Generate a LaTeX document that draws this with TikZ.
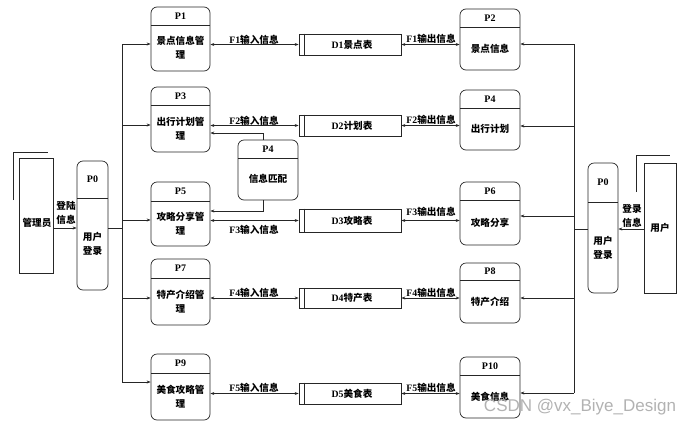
\documentclass[tikz,border=0pt]{standalone}
\usepackage{fontspec}
\setmainfont{Liberation Serif}
\newfontfamily\cjk{Noto Sans CJK SC}
\newfontfamily\wmfont{Liberation Sans}
\usetikzlibrary{arrows.meta,calc}
\tikzset{
  ln/.style={draw=black!85, line width=0.7pt},
  arr/.style={ln, -{Stealth[length=4pt,width=3pt]}},
  biarr/.style={ln, {Stealth[length=4pt,width=3pt]}-{Stealth[length=4pt,width=3pt]}},
  proc/.style={ln, rounded corners=6pt, inner sep=0pt},
  storebox/.style={ln, inner sep=0pt, minimum width=102pt},
  entbox/.style={ln, inner sep=0pt},
  hdr/.style={font=\bfseries\fontsize{10}{11}\selectfont, inner sep=0pt},
  bodytxt/.style={font=\cjk\bfseries\fontsize{9.6}{14}\selectfont, align=center, inner sep=0pt},
  flowlbl/.style={font=\bfseries\fontsize{9.8}{11}\selectfont, inner sep=0pt},
}
\newcommand{\zh}[1]{{\cjk\fontsize{9.6}{11}\selectfont #1}}
% #1 name, #2 cx, #3 top, #4 bottom, #5 divider, #6 width, #7 header, #8 body
\newcommand{\procbox}[8]{%
  \node[proc, minimum width=#6pt, minimum height={(#4-#3)*1pt}] (#1) at (#2,{(#3+#4)/2}) {};
  \draw[ln] ({#2-#6/2},#5) -- ({#2+#6/2},#5);
  \node[hdr] (#1h) at (#2,{(#3+#5)/2}) {#7};
  \node[bodytxt] (#1b) at (#2,{(#5+#4)/2}) {#8};
}
% #1 name, #2 top, #3 bottom, #4 text
\newcommand{\storebox}[4]{%
  \node[storebox, minimum height={(#3-#2)*1pt}] (#1) at (350,{(#2+#3)/2}) {};
  \draw[ln] ([xshift=6pt]#1.north west) -- ([xshift=6pt]#1.south west);
  \node[flowlbl] (#1t) at (352,{(#2+#3)/2}) {#4};
}
\begin{document}
\begin{tikzpicture}[x=1pt,y=-1pt]
\useasboundingbox (0,0) rectangle (698,426);

% left processes
\procbox{P1}{180.5}{7}{71}{25}{59}{P1}{景点信息管\\理}
\procbox{P3}{180.5}{87}{152}{105}{59}{P3}{出行计划管\\理}
\procbox{P5}{180.5}{182}{246}{201}{59}{P5}{攻略分享管\\理}
\procbox{P7}{180.5}{259}{325}{278}{59}{P7}{特产介绍管\\理}
\procbox{P9}{180.5}{354}{420}{373}{59}{P9}{美食攻略管\\理}
% right processes
\procbox{P2}{490}{9}{70}{27}{60}{P2}{景点信息}
\procbox{P4}{490}{90}{150}{108}{60}{P4}{出行计划}
\procbox{P6}{490}{182}{245}{200}{60}{P6}{攻略分享}
\procbox{P8}{490}{263}{323}{280}{60}{P8}{特产介绍}
\procbox{P10}{490}{357}{418}{375}{60}{P10}{美食信息}
% middle matching process
\procbox{P4a}{268}{140}{200}{158}{60}{P4}{信息匹配}
% login processes
\procbox{P0L}{92.5}{161}{290}{198}{31}{P0}{用户\\登录}
\procbox{P0R}{603}{163}{293}{202}{30}{P0}{用户\\登录}

% stores
\storebox{D1}{34}{55}{D1\zh{景点表}}
\storebox{D2}{115}{136}{D2\zh{计划表}}
\storebox{D3}{209}{232}{D3\zh{攻略表}}
\storebox{D4}{288}{308}{D4\zh{特产表}}
\storebox{D5}{383}{404}{D5\zh{美食表}}

% external entities
\node[entbox, minimum width=34pt, minimum height=115pt] (adm) at (36.5,215.5) {};
\node[bodytxt] (admt) at (37,223) {管理员};
\draw[ln] (13,200) -- (13,152) -- (48,152);
\node[entbox, minimum width=32pt, minimum height=130pt] (usr) at (660,228) {};
\node[bodytxt] (usrt) at (660,228) {用户};
\draw[ln] (636,192) -- (636,155) -- (670,155);

% login flows
\coordinate (lj) at (122,228);
\coordinate (rj) at (574,229);
\draw[arr] (adm.east |- lj) -- (lj -| P0L.west);
\node[bodytxt] (lgl) at (66,212.5) {登陆\\信息};
\draw[arr] (usr.west |- rj) -- (rj -| P0R.east);
\node[bodytxt] (lgr) at (632,215.5) {登录\\信息};
\draw[ln] (lj -| P0L.east) -- (lj);
\draw[ln] (rj -| P0R.west) -- (rj);

% left trunk
\coordinate (lt1) at (122,44);
\coordinate (lt2) at (122,125);
\coordinate (lt3) at (122,220);
\coordinate (lt4) at (122,298);
\coordinate (lt5) at (122,382);
\draw[ln] (lt1) -- (lt5);
\draw[arr] (lt1) -- (lt1 -| P1.west);
\draw[arr] (lt2) -- (lt2 -| P3.west);
\draw[arr] (lt3) -- (lt3 -| P5.west);
\draw[arr] (lt4) -- (lt4 -| P7.west);
\draw[arr] (lt5) -- (lt5 -| P9.west);

% right trunk
\coordinate (rt1) at (574,44);
\coordinate (rt2) at (574,126);
\coordinate (rt3) at (574,216);
\coordinate (rt4) at (574,298);
\coordinate (rt5) at (574,393);
\draw[ln] (rt1) -- (rt5);
\draw[arr] (rt1) -- (rt1 -| P2.east);
\draw[arr] (rt2) -- (rt2 -| P4.east);
\draw[arr] (rt3) -- (rt3 -| P6.east);
\draw[arr] (rt4) -- (rt4 -| P8.east);
\draw[arr] (rt5) -- (rt5 -| P10.east);

% store flows
\draw[biarr] (D1.west -| P1.east) -- (D1.west);
\draw[biarr] (D2.west -| P3.east) -- (D2.west);
\draw[biarr] (D3.west -| P5.east) -- (D3.west);
\draw[biarr] (D4.west -| P7.east) -- (D4.west);
\draw[biarr] (D5.west -| P9.east) -- (D5.west);
\draw[biarr] (D1.east) -- (D1.east -| P2.west);
\draw[biarr] (D2.east) -- (D2.east -| P4.west);
\draw[biarr] (D3.east) -- (D3.east -| P6.west);
\draw[biarr] (D4.east) -- (D4.east -| P8.west);
\draw[biarr] (D5.east) -- (D5.east -| P10.west);

\node[flowlbl] (f1i) at (254,39.5) {F1\zh{输入信息}};
\node[flowlbl] (f2i) at (254,120.5) {F2\zh{输入信息}};
\node[flowlbl] (f3i) at (254,230) {F3\zh{输入信息}};
\node[flowlbl] (f4i) at (254,293) {F4\zh{输入信息}};
\node[flowlbl] (f5i) at (254,388) {F5\zh{输入信息}};
\node[flowlbl] (f1o) at (431,38.5) {F1\zh{输出信息}};
\node[flowlbl] (f2o) at (431,120) {F2\zh{输出信息}};
\node[flowlbl] (f3o) at (431,212) {F3\zh{输出信息}};
\node[flowlbl] (f4o) at (431,293) {F4\zh{输出信息}};
\node[flowlbl] (f5o) at (431,388) {F5\zh{输出信息}};

% matching process links
\coordinate (m1) at (263,133);
\coordinate (m2) at (263,211);
\draw[arr] (m1 |- P4a.north) -- (m1) -- (m1 -| P3.east);
\draw[arr] (m2 |- P4a.south) -- (m2) -- (m2 -| P5.east);

% watermark
\node[text=black!30, font=\wmfont\fontsize{17}{17}\selectfont, inner sep=0pt] (wm) at (580,407) {CSDN @vx\_Biye\_Design};
\end{tikzpicture}
\end{document}
